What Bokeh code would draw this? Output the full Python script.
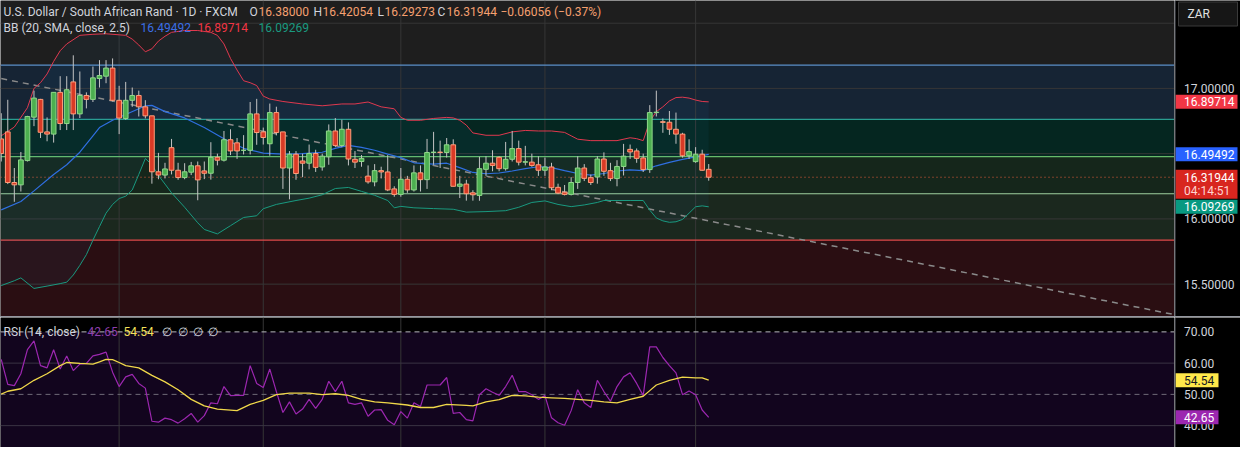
from bokeh.plotting import figure
from bokeh.layouts import column, row
from bokeh.models import (Range1d, Span, BoxAnnotation, Label, Div, ColumnDataSource, Grid)
from bokeh.core.properties import value
from bokeh.embed import file_html
from bokeh.resources import INLINE

# ---------------- data ----------------
opens = [16.613, 16.667, 16.279, 16.261, 16.447, 16.780, 16.916, 16.667, 16.650, 16.970,
         16.731, 17.050, 16.805, 16.946, 16.916, 17.076, 17.094, 17.156, 16.909, 16.770,
         16.909, 16.946, 16.859, 16.790, 16.361, 16.336, 16.546, 16.373, 16.317, 16.358,
         16.407, 16.368, 16.350, 16.472, 16.450, 16.607, 16.583, 16.526, 16.526, 16.805,
         16.667, 16.576, 16.815, 16.667, 16.390, 16.496, 16.444, 16.427, 16.501, 16.398,
         16.476, 16.674, 16.563, 16.687, 16.457, 16.440, 16.328, 16.284, 16.370, 16.360,
         16.230, 16.188, 16.304, 16.222, 16.353, 16.301, 16.509, 16.512, 16.509, 16.568,
         16.250, 16.267, 16.200, 16.180, 16.380, 16.427, 16.472, 16.385, 16.457, 16.539,
         16.435, 16.435, 16.415, 16.373, 16.398, 16.242, 16.205, 16.188, 16.279, 16.390,
         16.316, 16.321, 16.459, 16.370, 16.309, 16.402, 16.533, 16.521, 16.467, 16.378,
         16.815, 16.745, 16.741, 16.687, 16.650, 16.484, 16.439, 16.496, 16.38000]
highs = [16.810, 16.913, 16.390, 16.513, 16.790, 16.983, 16.920, 16.778, 16.970, 17.094,
         17.094, 17.254, 17.130, 16.970, 17.168, 17.217, 17.217, 17.230, 17.020, 17.050,
         17.007, 16.983, 16.910, 16.790, 16.506, 16.430, 16.613, 16.430, 16.427, 16.437,
         16.440, 16.440, 16.588, 16.500, 16.674, 16.687, 16.620, 16.642, 16.896, 16.920,
         16.700, 16.884, 16.860, 16.667, 16.520, 16.520, 16.500, 16.570, 16.530, 16.500,
         16.724, 16.773, 16.760, 16.740, 16.520, 16.490, 16.410, 16.420, 16.400, 16.489,
         16.250, 16.390, 16.330, 16.410, 16.410, 16.613, 16.667, 16.600, 16.620, 16.610,
         16.330, 16.300, 16.220, 16.476, 16.480, 16.526, 16.480, 16.590, 16.674, 16.600,
         16.560, 16.500, 16.480, 16.470, 16.430, 16.270, 16.260, 16.320, 16.480, 16.420,
         16.340, 16.480, 16.510, 16.430, 16.450, 16.575, 16.570, 16.540, 16.500, 16.872,
         16.983, 16.770, 16.827, 16.815, 16.660, 16.610, 16.550, 16.530, 16.42054]
lows = [16.440, 16.267, 16.131, 16.210, 16.440, 16.711, 16.620, 16.595, 16.585, 16.681,
        16.681, 16.681, 16.773, 16.847, 16.896, 17.007, 17.040, 16.900, 16.650, 16.760,
        16.859, 16.785, 16.770, 16.270, 16.304, 16.310, 16.341, 16.300, 16.304, 16.336,
        16.143, 16.305, 16.301, 16.410, 16.440, 16.489, 16.460, 16.494, 16.494, 16.568,
        16.570, 16.484, 16.640, 16.230, 16.150, 16.300, 16.320, 16.380, 16.360, 16.370,
        16.415, 16.550, 16.550, 16.410, 16.390, 16.400, 16.270, 16.250, 16.310, 16.213,
        16.170, 16.170, 16.200, 16.210, 16.210, 16.230, 16.415, 16.390, 16.470, 16.250,
        16.160, 16.140, 16.140, 16.139, 16.330, 16.365, 16.365, 16.370, 16.440, 16.410,
        16.410, 16.400, 16.330, 16.330, 16.220, 16.190, 16.180, 16.180, 16.230, 16.290,
        16.260, 16.270, 16.330, 16.290, 16.250, 16.333, 16.460, 16.430, 16.360, 16.353,
        16.785, 16.660, 16.644, 16.576, 16.470, 16.460, 16.430, 16.370, 16.29273]
closes = [16.501, 16.279, 16.261, 16.452, 16.785, 16.926, 16.664, 16.650, 16.970, 16.731,
          16.990, 16.805, 16.946, 16.916, 17.081, 17.099, 17.156, 16.909, 16.773, 16.909,
          16.946, 16.859, 16.790, 16.361, 16.336, 16.383, 16.373, 16.317, 16.361, 16.407,
          16.299, 16.350, 16.472, 16.450, 16.607, 16.521, 16.521, 16.526, 16.805, 16.662,
          16.624, 16.815, 16.662, 16.390, 16.496, 16.348, 16.427, 16.501, 16.395, 16.481,
          16.674, 16.563, 16.687, 16.459, 16.435, 16.464, 16.284, 16.370, 16.360, 16.222,
          16.188, 16.304, 16.222, 16.353, 16.301, 16.509, 16.512, 16.509, 16.568, 16.250,
          16.267, 16.193, 16.185, 16.385, 16.427, 16.410, 16.385, 16.457, 16.539, 16.435,
          16.438, 16.410, 16.373, 16.398, 16.239, 16.198, 16.188, 16.279, 16.390, 16.311,
          16.279, 16.459, 16.365, 16.309, 16.402, 16.481, 16.513, 16.464, 16.378, 16.815,
          16.818, 16.740, 16.687, 16.650, 16.484, 16.516, 16.496, 16.373, 16.31944]

# Bollinger bands (20, SMA, close, 2.5) sampled at bar indices
bb_up_idx = [0, 2, 4, 5, 6, 7, 8, 9, 10, 12, 14, 16, 18, 19, 20, 21, 22, 23, 24, 25,
             26, 28, 30, 32, 33, 34, 35, 36, 37, 38, 39, 40, 41, 43, 46, 49, 52, 54, 56, 58,
             60, 61, 62, 64, 66, 68, 69, 70, 71, 72, 74, 76, 78, 80, 82, 84, 86, 87, 88, 90,
             92, 94, 96, 97, 98, 99, 100, 101, 102, 103, 104, 105, 106, 107, 108]
bb_up = [16.637, 16.704, 16.852, 17.000, 17.044, 17.111, 17.207, 17.289, 17.341, 17.407,
         17.415, 17.419, 17.411, 17.407, 17.378, 17.333, 17.281, 17.304, 17.363, 17.400,
         17.430, 17.444, 17.444, 17.430, 17.407, 17.341, 17.230, 17.141, 17.059, 17.044,
         17.022, 16.941, 16.919, 16.900, 16.881, 16.867, 16.881, 16.881, 16.896, 16.859,
         16.844, 16.778, 16.756, 16.756, 16.770, 16.778, 16.774, 16.756, 16.719, 16.659,
         16.641, 16.641, 16.667, 16.678, 16.674, 16.674, 16.663, 16.637, 16.611, 16.600,
         16.600, 16.600, 16.622, 16.615, 16.600, 16.748, 16.822, 16.859, 16.904, 16.930,
         16.933, 16.926, 16.911, 16.900, 16.89714]
bb_mid_idx = [0, 3, 5, 8, 10, 12, 14, 15, 17, 19, 21, 22, 23, 25, 28, 31, 34, 37, 40, 43,
              46, 49, 51, 53, 55, 57, 59, 61, 63, 66, 68, 70, 72, 74, 76, 78, 80, 82, 84, 86,
              88, 90, 92, 94, 96, 98, 99, 100, 102, 104, 106, 108]
bb_mid = [16.069, 16.133, 16.215, 16.341, 16.415, 16.511, 16.637, 16.700, 16.756, 16.800,
          16.844, 16.867, 16.870, 16.822, 16.774, 16.700, 16.615, 16.541, 16.504, 16.496,
          16.501, 16.511, 16.541, 16.563, 16.548, 16.526, 16.496, 16.470, 16.430, 16.420,
          16.427, 16.393, 16.356, 16.346, 16.352, 16.367, 16.385, 16.400, 16.393, 16.370,
          16.348, 16.336, 16.348, 16.367, 16.376, 16.370, 16.389, 16.407, 16.433, 16.456,
          16.476, 16.49492]
bb_lo_idx = [0, 2, 3, 5, 7, 9, 10, 11, 12, 13, 14, 15, 16, 17, 18, 19, 20, 21, 22, 23,
             24, 25, 26, 28, 30, 31, 33, 35, 37, 39, 40, 42, 45, 47, 49, 51, 53, 55, 57, 59,
             60, 61, 63, 66, 69, 71, 74, 77, 79, 81, 83, 85, 87, 89, 91, 92, 94, 96, 98, 99,
             100, 101, 102, 103, 104, 105, 106, 107, 108]
bb_lo = [15.489, 15.526, 15.548, 15.467, 15.485, 15.504, 15.515, 15.570, 15.644, 15.726,
         15.837, 15.941, 16.044, 16.111, 16.156, 16.174, 16.222, 16.341, 16.463, 16.415,
         16.333, 16.267, 16.200, 16.089, 15.970, 15.919, 15.885, 15.948, 16.011, 16.024,
         16.078, 16.111, 16.141, 16.159, 16.185, 16.233, 16.241, 16.211, 16.181, 16.141,
         16.085, 16.096, 16.085, 16.079, 16.074, 16.052, 16.056, 16.063, 16.089, 16.126,
         16.138, 16.111, 16.094, 16.107, 16.126, 16.141, 16.141, 16.141, 16.141, 16.067,
         16.007, 15.985, 15.974, 15.978, 15.996, 16.044, 16.093, 16.100, 16.09269]

# RSI (14, close) and its moving average
rsi = [61.2, 53.2, 52.8, 56.6, 64.3, 67.1, 59.2, 58.5, 64.3, 58.1,
       62.3, 57.6, 59.7, 59.9, 62.3, 62.8, 63.5, 57.1, 52.5, 55.6,
       56.4, 53.5, 52.0, 41.4, 41.1, 42.4, 41.9, 40.8, 42.2, 43.9,
       41.1, 43.2, 47.3, 47.0, 52.5, 49.6, 49.7, 49.7, 59.2, 53.5,
       52.2, 58.1, 50.9, 44.2, 47.6, 43.7, 45.3, 48.4, 45.5, 48.4,
       54.2, 50.9, 54.2, 47.3, 46.8, 47.3, 43.0, 45.0, 45.1, 41.7,
       40.3, 44.5, 42.4, 47.3, 46.1, 53.0, 53.0, 53.0, 55.4, 43.9,
       44.2, 41.9, 41.5, 49.9, 51.8, 50.7, 49.7, 52.5, 56.1, 50.9,
       50.9, 49.9, 48.4, 49.6, 42.5, 40.9, 40.1, 44.8, 51.5, 47.3,
       45.8, 54.5, 50.9, 47.8, 52.5, 55.6, 56.9, 53.5, 49.6, 65.2,
       65.2, 61.8, 59.2, 56.9, 49.9, 51.1, 49.9, 45.0, 42.65]
rsi_ma_idx = [0, 1, 3, 5, 7, 9, 10, 12, 14, 15, 16, 17, 18, 19, 21, 23, 25, 27, 29, 31,
              33, 36, 38, 40, 42, 44, 47, 49, 51, 53, 55, 57, 59, 62, 64, 66, 68, 71, 72, 74,
              76, 78, 80, 82, 84, 86, 88, 90, 92, 94, 96, 98, 99, 100, 102, 104, 106, 107, 108]
rsi_ma = [50.1, 51.0, 51.8, 54.5, 56.6, 59.2, 60.2, 59.9, 59.7, 60.4,
          61.2, 61.1, 60.2, 59.2, 58.5, 56.1, 54.0, 51.5, 48.4, 46.3,
          45.3, 44.8, 46.8, 48.1, 49.9, 50.4, 50.4, 49.9, 50.2, 49.7,
          48.4, 47.6, 47.3, 46.6, 45.8, 45.8, 46.8, 46.5, 46.3, 47.6,
          48.3, 49.7, 49.5, 49.1, 48.9, 48.7, 48.4, 48.1, 47.6, 47.3,
          48.4, 49.4, 51.2, 53.0, 54.5, 55.5, 55.3, 55.3, 54.54]

# drawings: horizontal zone levels and a dashed trend line
zone_levels = [17.178, 16.763, 16.478, 16.193, 15.837]
trend_idx = [0, 180]
trend_price = [17.076, 15.257]

# axis ticks / month separators
price_ticks = [15.5, 16.0, 16.5, 17.0]
price_grid = [15.5, 16.0, 16.5, 17.0, 17.5]
rsi_ticks = [40, 50, 60, 70]
month_idx = [18, 40, 61, 83, 106]
countdown = "04:14:51"
change_text = "\u22120.06056 (\u22120.37%)"

# ---------------- styling ----------------
FONT = "Roboto"
W = 1240
AXIS_W = 66
PW = W - AXIS_W
H_MAIN = 316
H_RSI = 130
X0, X1 = -0.11, 179.1
Y0, Y1 = 15.252, 17.674
R0, R1 = 33.0, 74.6

BG = "#1e1e1e"
TXT = "#d1d4dc"
UP_FILL, UP_LINE = "#4caf50", "#8fd88a"
DN_FILL, DN_LINE = "#d93a26", "#ff9e7a"
WICK = "#c4c4c4"
GRID = "#363636"
zone_fills = ["#162434", "#052620", "#15261b", "#1b281e", "#2a0e12"]
zone_lines = ["#5b8fc9", "#2a9d8f", "#66bb6a", "#9fd09f", "#e04848"]

x_range = Range1d(X0, X1)


def no_grid(f):
    f.center = [c for c in f.center if not isinstance(c, Grid)]


def pane(height, y_range, bg):
    f = figure(width=PW, height=height, x_range=x_range, y_range=y_range,
               x_axis_location=None, y_axis_location=None,
               toolbar_location=None, output_backend="svg", min_border=0)
    no_grid(f)
    f.background_fill_color = bg
    f.border_fill_color = bg
    f.outline_line_color = None
    for m in month_idx:
        f.add_layout(Span(location=m, dimension="height", line_color=GRID,
                          line_width=1, level="underlay"))
    return f


def strip(height, y_range):
    s = figure(width=AXIS_W, height=height, x_range=Range1d(0, AXIS_W), y_range=y_range,
               x_axis_location=None, y_axis_location=None,
               toolbar_location=None, output_backend="svg", min_border=0)
    no_grid(s)
    s.background_fill_color = "#000000"
    s.border_fill_color = "#000000"
    s.outline_line_color = None
    s.add_layout(Span(location=0.5, dimension="height", line_color="#5d606b", line_width=1))
    return s


def ticks(s, vals, fmt):
    s.text(x=[9.5] * len(vals), y=vals, text=[fmt % v for v in vals],
           text_font=value(FONT), text_font_size="12px", text_color=TXT,
           text_align="left", text_baseline="middle")


def tag(s, y, txt, bg, fg="#ffffff", w=62):
    s.rect(x=[1 + w / 2], y=[y], width=w, height=14, height_units="screen",
           fill_color=bg, line_color=None)
    s.text(x=[9.5], y=[y], text=[txt], text_font=value(FONT), text_font_size="12px",
           text_color=fg, text_align="left", text_baseline="middle")


def legend(fig, px, dy, s, color, y):
    fig.add_layout(Label(x=X0, y=y, x_offset=px, y_offset=dy, text=s,
                         text_color=color, text_font=FONT, text_font_size="12px",
                         text_align="left", text_baseline="middle"))


# ---------------- main price pane ----------------
p = pane(H_MAIN, Range1d(Y0, Y1), BG)
ppx = (Y1 - Y0) / H_MAIN

for k, top in enumerate(zone_levels):
    kw = dict(top=top, fill_color=zone_fills[k], fill_alpha=1.0, line_color=None, level="image")
    if k + 1 < len(zone_levels):
        kw["bottom"] = zone_levels[k + 1]
    p.add_layout(BoxAnnotation(**kw))
for g in price_grid:
    p.add_layout(Span(location=g, dimension="width", line_color=GRID, line_width=1,
                      level="underlay"))
for k, top in enumerate(zone_levels):
    p.add_layout(Span(location=top, dimension="width", line_color=zone_lines[k],
                      line_width=1.2, level="underlay"))

p.patch(x=bb_up_idx + bb_lo_idx[::-1], y=bb_up + bb_lo[::-1],
        fill_color="#2196f3", fill_alpha=0.05, line_color=None)

p.add_layout(Span(location=closes[-1], dimension="width", line_color="#e8603c",
                  line_dash="1 3", line_width=1, level="underlay"))

p.line(trend_idx, trend_price, line_color="#8a8a8a", line_width=1.5, line_dash="6 5")

p.line(bb_up_idx, bb_up, line_color="#e0394f", line_width=1)
p.line(bb_mid_idx, bb_mid, line_color="#2f6fe0", line_width=1.2)
p.line(bb_lo_idx, bb_lo, line_color="#1a9a80", line_width=1)

idx = list(range(len(closes)))
up = [c >= o for o, c in zip(opens, closes)]
src = ColumnDataSource(dict(
    x=idx, o=opens, h=highs, l=lows, c=closes,
    top=[max(o, c) for o, c in zip(opens, closes)],
    bot=[min(o, c) for o, c in zip(opens, closes)],
    fill=[UP_FILL if u else DN_FILL for u in up],
    edge=[UP_LINE if u else DN_LINE for u in up],
))
p.segment(x0="x", y0="l", x1="x", y1="h", source=src, line_color=WICK, line_width=1)
p.vbar(x="x", width=0.72, top="top", bottom="bot", source=src,
       fill_color="fill", line_color="edge", line_width=1)

ORANGE = "#f5a070"
legend(p, 3, -11, "U.S. Dollar / South African Rand · 1D · FXCM", TXT, Y1)
legend(p, 249, -11, "O", TXT, Y1)
legend(p, 258, -11, "%.5f" % opens[-1], ORANGE, Y1)
legend(p, 313, -11, "H", TXT, Y1)
legend(p, 322, -11, "%.5f" % highs[-1], ORANGE, Y1)
legend(p, 377, -11, "L", TXT, Y1)
legend(p, 384, -11, "%.5f" % lows[-1], ORANGE, Y1)
legend(p, 437, -11, "C", TXT, Y1)
legend(p, 446, -11, "%.5f" % closes[-1], ORANGE, Y1)
legend(p, 500, -11, change_text, ORANGE, Y1)

legend(p, 3, -27, "BB (20, SMA, close, 2.5)", TXT, Y1)
legend(p, 140, -27, "%.5f" % bb_mid[-1], "#3b6fe6", Y1)
legend(p, 197, -27, "%.5f" % bb_up[-1], "#f23645", Y1)
legend(p, 258, -27, "%.5f" % bb_lo[-1], "#1a9a80", Y1)

# price scale strip
ps = strip(H_MAIN, p.y_range)
ticks(ps, price_ticks, "%.5f")
tag(ps, bb_up[-1], "%.5f" % bb_up[-1], "#f23645")
tag(ps, bb_mid[-1], "%.5f" % bb_mid[-1], "#2962ff")
ps.rect(x=[32], y=[closes[-1] - 7 * ppx], width=62, height=29, height_units="screen",
        fill_color="#d8261f", line_color=None)
ps.text(x=[9.5, 9.5], y=[closes[-1], closes[-1] - 14 * ppx],
        text=["%.5f" % closes[-1], countdown], text_font=value(FONT), text_font_size="12px",
        text_color=["#ffffff", "#ffd4d0"], text_align="left", text_baseline="middle")
tag(ps, bb_lo[-1], "%.5f" % bb_lo[-1], "#089981")
ps.rect(x=[33.5], y=[Y1 - 13.5 * ppx], width=59, height=24, height_units="screen",
        fill_color="#161616", line_color="#3a3a3a", line_width=1)
ps.text(x=[13], y=[Y1 - 13.5 * ppx], text=["ZAR"], text_font=value(FONT),
        text_font_size="12px", text_color="#e0e0e0", text_align="left",
        text_baseline="middle")

# ---------------- RSI pane ----------------
r = pane(H_RSI, Range1d(R0, R1), "#000000")
r.add_layout(BoxAnnotation(bottom=30, top=70, fill_color="#12051e", fill_alpha=1.0,
                           line_color=None, level="image"))
for g in (40, 60):
    r.add_layout(Span(location=g, dimension="width", line_color="#3a3444", line_width=1,
                      level="underlay"))
r.add_layout(Span(location=70, dimension="width", line_color="#b8b8c0",
                  line_dash="5 4", line_width=1, level="underlay"))
r.add_layout(Span(location=50, dimension="width", line_color="#6f6a78",
                  line_dash="5 4", line_width=1, level="underlay"))

r.line(idx, rsi, line_color="#9c27b0", line_width=1.2)
r.line(rsi_ma_idx, rsi_ma, line_color="#f0d84a", line_width=1.3)

legend(r, 3, 0, "RSI (14, close)", TXT, 70)
legend(r, 87, 0, "%.2f" % rsi[-1], "#8e3fae", 70)
legend(r, 123, 0, "%.2f" % rsi_ma[-1], "#f5e15a", 70)
for px in (161, 177, 192, 207):
    legend(r, px, 0, "\u2205", TXT, 70)

rs = strip(H_RSI, r.y_range)
ticks(rs, rsi_ticks, "%.2f")
tag(rs, rsi_ma[-1], "%.2f" % rsi_ma[-1], "#ffe84a", fg="#131722", w=43)
tag(rs, rsi[-1], "%.2f" % rsi[-1], "#9c27b0", w=43)

sep = Div(width=W, height=1, margin=0,
          styles={"background-color": "#9598a1", "height": "1px", "overflow": "hidden"})

layout = column(row(p, ps, spacing=0), sep, row(r, rs, spacing=0), spacing=0)
open("out.html", "w").write(file_html(layout, INLINE))
